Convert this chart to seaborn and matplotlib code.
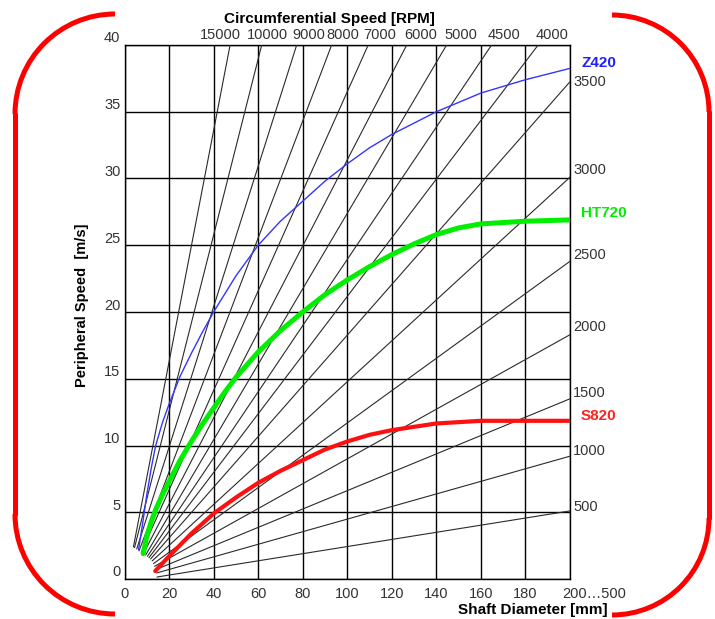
import numpy as np
import pandas as pd
import matplotlib
matplotlib.use("Agg")
import matplotlib.pyplot as plt
import seaborn as sns
from matplotlib.patches import Arc
from matplotlib.lines import Line2D

# ---------------- data ----------------
rpm_values = [15000, 10000, 9000, 8000, 7000, 6000, 5000, 4500, 4000,
              3500, 3000, 2500, 2000, 1500, 1000, 500]
rpm_start_d = [4.0, 4.5, 5.5, 6.5, 7.5, 8.5, 9.5, 10.3, 11.0,
               11.7, 12.4, 13.0, 13.5, 14.0, 14.4, 14.6]
rpm_start_v = [2.4, 2.35, 2.25, 2.1, 2.0, 1.9, 1.8, 1.7, 1.6,
               1.5, 1.35, 1.15, 0.95, 0.7, 0.45, 0.15]
rpm_end_d = [47.4, 61.6, 77.3, 93.0, 109.4, 126.7, 144.6, 164.8, 185.7,
             200, 200, 200, 200, 200, 200, 200]
rpm_end_v = [40, 40, 40, 40, 40, 40, 40, 40, 40,
             37.25, 30.1, 23.8, 18.3, 13.5, 9.2, 5.1]

z420_d = [6.3, 8, 10, 12, 14, 17, 20, 25, 30, 35, 40, 50, 60, 70, 80, 90,
          100, 110, 120, 140, 160, 180, 200]
z420_v = [2.2, 4.0, 6.3, 8.3, 10.0, 11.7, 13.1, 15.2, 16.9, 18.5, 20.0, 22.7,
          25.0, 26.8, 28.3, 29.8, 31.1, 32.3, 33.3, 35.0, 36.4, 37.4, 38.25]

ht720_d = [8.4, 10, 12, 14, 17, 20, 25, 30, 35, 40, 45, 50, 60, 70, 80, 90,
           100, 110, 120, 130, 140, 150, 160, 180, 200]
ht720_v = [1.9, 3.2, 4.3, 5.2, 6.3, 7.3, 8.9, 10.3, 11.6, 12.8, 14.0, 15.1,
           17.0, 18.6, 20.0, 21.3, 22.4, 23.4, 24.3, 25.1, 25.8, 26.3, 26.6, 26.8, 26.9]

s820_d = [13.8, 20, 30, 40, 50, 60, 70, 80, 90, 100, 110, 120, 140, 160, 200]
s820_v = [0.6, 1.7, 3.4, 4.9, 6.1, 7.2, 8.1, 8.9, 9.7, 10.3, 10.8, 11.15,
          11.65, 11.85, 11.85]

x_ticks = [0, 20, 40, 60, 80, 100, 120, 140, 160, 180, 200]
x_tick_labels = ["0", "20", "40", "60", "80", "100", "120", "140", "160", "180", "200\u2026500"]
y_ticks = [0, 5, 10, 15, 20, 25, 30, 35, 40]

# ---------------- figure ----------------
sns.set_theme(style="white")
plt.rcParams["font.family"] = ["Liberation Sans", "DejaVu Sans"]

W, H = 715, 619
fig = plt.figure(figsize=(W / 100, H / 100), dpi=100)
ax = fig.add_axes([124.5 / W, (H - 579) / H, 445.5 / W, 534 / H])

rpm_df = pd.DataFrame({
    "d": rpm_start_d + rpm_end_d,
    "v": rpm_start_v + rpm_end_v,
    "rpm": rpm_values + rpm_values,
})
sns.lineplot(data=rpm_df, x="d", y="v", units="rpm", estimator=None,
             color="#2a2a2a", lw=0.8, ax=ax, zorder=3)

sns.lineplot(x=z420_d, y=z420_v, color="#3535ff", lw=1.0, ax=ax, zorder=4)
sns.lineplot(x=ht720_d, y=ht720_v, color="#00ee00", lw=3.6, ax=ax, zorder=4)
sns.lineplot(x=s820_d, y=s820_v, color="#ff1010", lw=3.0, ax=ax, zorder=4)

ax.set_xlim(0, 200)
ax.set_ylim(0, 40)
ax.set_xticks(x_ticks)
ax.set_yticks(y_ticks)
ax.set_xticklabels([])
ax.set_yticklabels([])
ax.tick_params(length=0)
ax.set_xlabel("")
ax.set_ylabel("")
ax.grid(True, color="black", lw=1.0, zorder=1)
ax.set_axisbelow(True)
for s in ax.spines.values():
    s.set_color("black")
    s.set_linewidth(1.0)

tick_color = "#333333"
fs = 10.5

# x tick labels
for xv, lab in zip(x_ticks, x_tick_labels):
    if lab.startswith("200"):
        ax.annotate(lab, xy=(xv, 0), xycoords=("data", "axes fraction"),
                    xytext=(-8, -8), textcoords="offset pixels",
                    ha="left", va="top", fontsize=fs, color=tick_color)
    else:
        ax.annotate(lab, xy=(xv, 0), xycoords=("data", "axes fraction"),
                    xytext=(0, -8), textcoords="offset pixels",
                    ha="center", va="top", fontsize=fs, color=tick_color)

# y tick labels
for yv in y_ticks:
    ax.annotate(str(yv), xy=(0, yv), xycoords=("axes fraction", "data"),
                xytext=(-4, 6.5), textcoords="offset pixels",
                ha="right", va="center", fontsize=fs, color=tick_color)

# RPM labels
top_dx = [-30, -15, -4, -5, -5, -2, -2, -4, -3]
right_dy = [0, 7.5, 6.5, 7.5, 6, 5, 4]
i_top = 0
i_right = 0
for n, ed, ev in zip(rpm_values, rpm_end_d, rpm_end_v):
    if ev >= 40:
        ax.annotate(str(n), xy=(ed, ev), xytext=(top_dx[i_top], 3),
                    textcoords="offset pixels", ha="left", va="bottom",
                    fontsize=fs, color=tick_color, annotation_clip=False)
        i_top += 1
    else:
        ax.annotate(str(n), xy=(ed, ev), xytext=(3, right_dy[i_right]),
                    textcoords="offset pixels", ha="left", va="center",
                    fontsize=fs, color=tick_color, annotation_clip=False)
        i_right += 1

# curve labels
for name, dd, vv, col, dy in [("Z420", z420_d, z420_v, "#2020ff", 5.5),
                              ("HT720", ht720_d, ht720_v, "#00ee00", 6.5),
                              ("S820", s820_d, s820_v, "#ff2020", 4.5)]:
    ax.annotate(name, xy=(dd[-1], vv[-1]), xytext=(11, dy),
                textcoords="offset pixels", ha="left", va="center",
                fontsize=11, fontweight="bold", color=col, annotation_clip=False)

# axis titles
fig.text(329 / W, 1 - 18.5 / H, "Circumferential Speed [RPM]", ha="center", va="center",
         fontsize=11, fontweight="bold", color="black")
fig.text(608 / W, 1 - 610 / H, "Shaft Diameter [mm]", ha="right", va="center",
         fontsize=11, fontweight="bold", color="black")
fig.text(82 / W, 1 - 305 / H, "Peripheral Speed  [m/s]", ha="center", va="center",
         rotation=90, fontsize=10.5, fontweight="bold", color="black")

# red bracket frame
red = "#ff0000"
blw = 3.6
def fx(x):
    return x / W
def fy(y):
    return 1 - y / H

r = 100
fig.add_artist(Arc((fx(115), fy(114)), 2 * r / W, 2 * r / H, theta1=90, theta2=180,
                   transform=fig.transFigure, color=red, lw=blw))
fig.add_artist(Line2D([fx(15), fx(15)], [fy(114), fy(514)], transform=fig.transFigure,
                      color=red, lw=blw))
fig.add_artist(Arc((fx(115), fy(514)), 2 * r / W, 2 * r / H, theta1=180, theta2=270,
                   transform=fig.transFigure, color=red, lw=blw))
r2 = 97
fig.add_artist(Arc((fx(612), fy(112)), 2 * r2 / W, 2 * r2 / H, theta1=0, theta2=90,
                   transform=fig.transFigure, color=red, lw=blw))
fig.add_artist(Line2D([fx(709), fx(709)], [fy(112), fy(518)], transform=fig.transFigure,
                      color=red, lw=blw))
fig.add_artist(Arc((fx(612), fy(518)), 2 * r2 / W, 2 * r2 / H, theta1=270, theta2=360,
                   transform=fig.transFigure, color=red, lw=blw))

fig.savefig("out.png", dpi=100, facecolor="white")
